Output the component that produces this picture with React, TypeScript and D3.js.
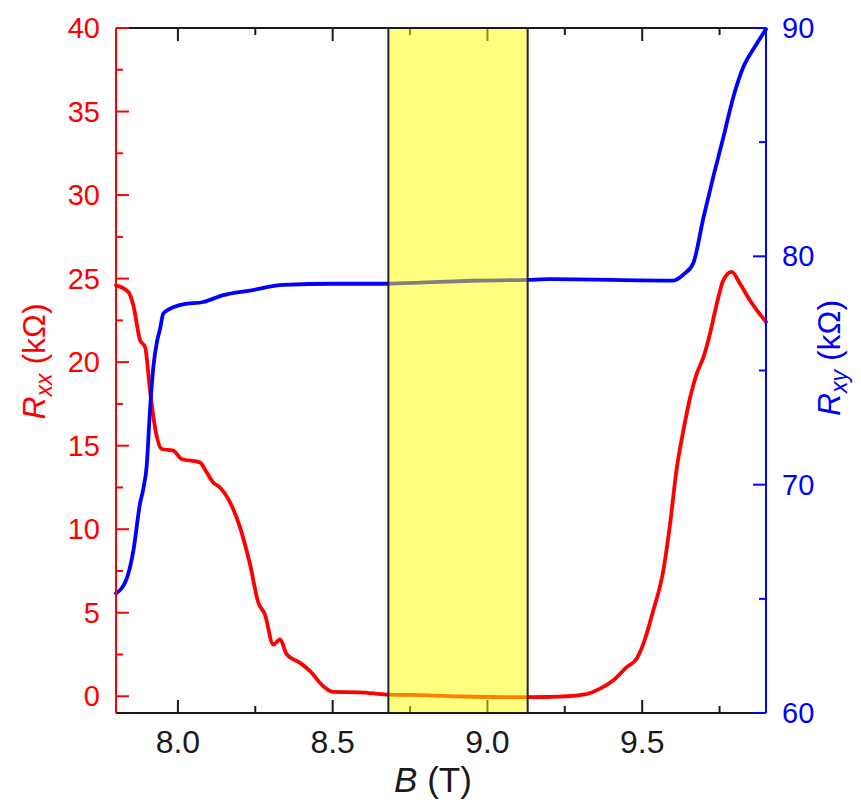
import React from "react";
import * as d3 from "d3";

// Rxx (kΩ) vs B (T)
const B_RXX = [7.8, 7.84, 7.856, 7.878, 7.894, 7.91, 7.926, 7.948, 7.985, 8.012, 8.071, 8.093, 8.114, 8.136, 8.163, 8.201, 8.233, 8.26, 8.281, 8.308, 8.33, 8.352, 8.395, 8.427, 8.47, 8.502, 8.588, 8.675, 8.75, 8.9, 9.05, 9.13, 9.202, 9.31, 9.364, 9.407, 9.45, 9.482, 9.504, 9.536, 9.568, 9.59, 9.612, 9.633, 9.655, 9.676, 9.698, 9.719, 9.741, 9.762, 9.789, 9.816, 9.848, 9.9];
const RXX = [24.6, 24.2, 23.4, 21.3, 20.9, 18.3, 16.1, 14.8, 14.7, 14.2, 14.0, 13.4, 12.8, 12.5, 11.8, 10.1, 7.9, 5.6, 4.9, 3.1, 3.4, 2.5, 2.0, 1.5, 0.6, 0.26, 0.24, 0.1, 0.08, 0.0, -0.05, -0.05, -0.04, 0.1, 0.46, 0.96, 1.75, 2.25, 3.15, 5.15, 7.5, 10.3, 13.7, 15.9, 17.9, 19.3, 20.3, 21.7, 23.5, 24.9, 25.4, 24.7, 23.7, 22.4];

// Rxy (kΩ) vs B (T)
const B_RXY = [7.8, 7.835, 7.856, 7.878, 7.888, 7.899, 7.91, 7.921, 7.933, 7.942, 7.953, 7.974, 8.017, 8.082, 8.147, 8.233, 8.341, 8.502, 8.675, 8.8, 8.95, 9.13, 9.202, 9.601, 9.633, 9.665, 9.698, 9.73, 9.762, 9.795, 9.827, 9.865, 9.9];
const RXY = [65.24, 65.9, 67.1, 69.2, 69.8, 70.8, 73.3, 75.2, 76.3, 76.8, 77.5, 77.7, 77.9, 78.0, 78.3, 78.5, 78.75, 78.8, 78.8, 78.86, 78.93, 78.97, 79.0, 78.94, 79.2, 79.7, 81.7, 83.5, 85.2, 87.0, 88.3, 89.2, 89.95];

const BAND = [8.68, 9.13];

const X_MAJOR = [8.0, 8.5, 9.0, 9.5];
const X_MINOR = [8.25, 8.75, 9.25, 9.75];
const L_MAJOR = [0, 5, 10, 15, 20, 25, 30, 35, 40];
const L_MINOR = [2.5, 7.5, 12.5, 17.5, 22.5, 27.5, 32.5, 37.5];
const R_MAJOR = [60, 70, 80, 90];
const R_MINOR = [65, 75, 85];

const FONT = "'Liberation Sans', Arial, Helvetica, sans-serif";
const RED = "#ff0000";
const BLUE = "#0000ff";
const DARK = "#1a1a1a";

export default function App() {
  const left = 116, right = 766, top = 28, bottom = 713;
  const x = d3.scaleLinear().domain([7.8, 9.9]).range([left, right]);
  const yL = d3.scaleLinear().domain([-1, 40]).range([bottom, top]);
  const yR = d3.scaleLinear().domain([60, 90]).range([bottom, top]);

  const redLine = d3
    .line<number>()
    .x((_, i) => x(B_RXX[i]))
    .y((d) => yL(d))
    .curve(d3.curveMonotoneX)(RXX) as string;
  const blueLine = d3
    .line<number>()
    .x((_, i) => x(B_RXY[i]))
    .y((d) => yR(d))
    .curve(d3.curveMonotoneX)(RXY) as string;

  const MAJ = 13, MIN = 7;
  const bx0 = x(BAND[0]), bx1 = x(BAND[1]);

  return (
    <svg width={861} height={803} style={{ position: "absolute", left: 0, top: 0, background: "#fff" }}>
      {/* x ticks (bottom & top), inward */}
      <g stroke={DARK} strokeWidth={2}>
        {X_MAJOR.map((t) => (
          <g key={"xm" + t}>
            <line x1={x(t)} x2={x(t)} y1={bottom} y2={bottom - MAJ} />
            <line x1={x(t)} x2={x(t)} y1={top} y2={top + MAJ} />
          </g>
        ))}
        {X_MINOR.map((t) => (
          <g key={"xn" + t}>
            <line x1={x(t)} x2={x(t)} y1={bottom} y2={bottom - MIN} />
            <line x1={x(t)} x2={x(t)} y1={top} y2={top + MIN} />
          </g>
        ))}
      </g>

      {/* curves */}
      <path d={redLine} fill="none" stroke={RED} strokeWidth={3.8} strokeLinejoin="round" strokeLinecap="round" />
      <path d={blueLine} fill="none" stroke={BLUE} strokeWidth={3.8} strokeLinejoin="round" strokeLinecap="round" />

      {/* highlighted band */}
      <rect x={bx0} y={top} width={bx1 - bx0} height={bottom - top} fill="#ffff00" opacity={0.5} />
      <line x1={bx0} x2={bx0} y1={top} y2={bottom} stroke="#222" strokeWidth={2} />
      <line x1={bx1} x2={bx1} y1={top} y2={bottom} stroke="#222" strokeWidth={2} />

      {/* frame */}
      <line x1={left} x2={right} y1={bottom} y2={bottom} stroke={DARK} strokeWidth={2} />
      <line x1={left} x2={right} y1={top} y2={top} stroke={DARK} strokeWidth={2} />

      {/* left axis */}
      <g stroke={RED} strokeWidth={2}>
        <line x1={left} x2={left} y1={top} y2={bottom} />
        {L_MAJOR.map((t) => (
          <line key={"lm" + t} x1={left} x2={left + MAJ} y1={yL(t)} y2={yL(t)} />
        ))}
        {L_MINOR.map((t) => (
          <line key={"ln" + t} x1={left} x2={left + MIN} y1={yL(t)} y2={yL(t)} />
        ))}
      </g>
      <g fill={RED} fontFamily={FONT} fontSize={29} textAnchor="end">
        {L_MAJOR.map((t) => (
          <text key={"lt" + t} x={100} y={yL(t)} dominantBaseline="central">
            {t}
          </text>
        ))}
      </g>

      {/* right axis */}
      <g stroke={BLUE} strokeWidth={2}>
        <line x1={right} x2={right} y1={top} y2={bottom} />
        {R_MAJOR.map((t) => (
          <line key={"rm" + t} x1={right} x2={right - MAJ} y1={yR(t)} y2={yR(t)} />
        ))}
        {R_MINOR.map((t) => (
          <line key={"rn" + t} x1={right} x2={right - MIN} y1={yR(t)} y2={yR(t)} />
        ))}
      </g>
      <g fill={BLUE} fontFamily={FONT} fontSize={29} textAnchor="start">
        {R_MAJOR.map((t) => (
          <text key={"rt" + t} x={782} y={yR(t)} dominantBaseline="central">
            {t}
          </text>
        ))}
      </g>

      {/* x tick labels */}
      <g fill={DARK} fontFamily={FONT} fontSize={32} textAnchor="middle">
        {X_MAJOR.map((t) => (
          <text key={"xt" + t} x={x(t)} y={753}>
            {t.toFixed(1)}
          </text>
        ))}
      </g>

      {/* axis titles */}
      <text x={433} y={792} fontFamily={FONT} fontSize={35} fill={DARK} textAnchor="middle">
        <tspan fontStyle="italic">B</tspan>
        <tspan> (T)</tspan>
      </text>
      <text
        transform={`translate(45, 361.5) rotate(-90)`}
        fontFamily={FONT}
        fontSize={32}
        fill={RED}
        textAnchor="middle"
      >
        <tspan fontStyle="italic">R</tspan>
        <tspan fontStyle="italic" fontSize={23} dy={7}>xx</tspan>
        <tspan dy={-7}> (kΩ)</tspan>
      </text>
      <text
        transform={`translate(840, 358) rotate(-90)`}
        fontFamily={FONT}
        fontSize={32}
        fill={BLUE}
        textAnchor="middle"
      >
        <tspan fontStyle="italic">R</tspan>
        <tspan fontStyle="italic" fontSize={23} dy={7}>xy</tspan>
        <tspan dy={-7}> (kΩ)</tspan>
      </text>
    </svg>
  );
}
